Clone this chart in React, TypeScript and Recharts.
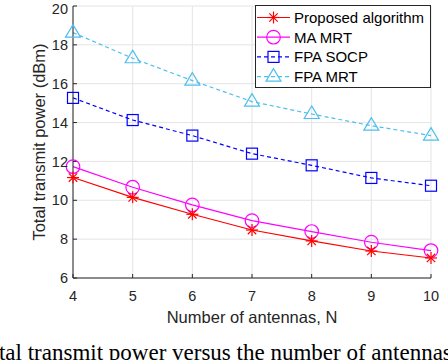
import React from "react";
import {
  LineChart, Line, XAxis, YAxis, CartesianGrid, Label
} from "recharts";

const antennas = [4, 5, 6, 7, 8, 9, 10];
const proposed = [11.17, 10.15, 9.28, 8.47, 7.91, 7.39, 7.03];
const maMrt = [11.73, 10.67, 9.76, 8.95, 8.39, 7.84, 7.41];
const fpaSocp = [15.27, 14.13, 13.33, 12.4, 11.8, 11.15, 10.75];
const fpaMrt = [18.63, 17.31, 16.16, 15.08, 14.44, 13.84, 13.33];
const xTicks = [4, 5, 6, 7, 8, 9, 10];
const yTicks = [6, 8, 10, 12, 14, 16, 18, 20];

const data = antennas.map((n, i) => ({
  n,
  proposed: proposed[i],
  maMrt: maMrt[i],
  fpaSocp: fpaSocp[i],
  fpaMrt: fpaMrt[i],
}));

const RED = "#ff0000";
const MAGENTA = "#ff00ff";
const BLUE = "#0000ff";
const LIGHT = "#4dbeee";
const AX = "#262626";
const FONT = "'Liberation Sans', Arial, sans-serif";

type MarkerKind = "star" | "circle" | "square" | "triangle";

const Marker = ({ kind, cx, cy, color }: { kind: MarkerKind; cx: number; cy: number; color: string }) => {
  if (kind === "star") {
    const r = 6, d = 4.2;
    return (
      <g stroke={color} strokeWidth={1.2}>
        <line x1={cx - r} y1={cy} x2={cx + r} y2={cy} />
        <line x1={cx} y1={cy - r} x2={cx} y2={cy + r} />
        <line x1={cx - d} y1={cy - d} x2={cx + d} y2={cy + d} />
        <line x1={cx - d} y1={cy + d} x2={cx + d} y2={cy - d} />
      </g>
    );
  }
  if (kind === "circle") {
    return <circle cx={cx} cy={cy} r={6.8} fill="none" stroke={color} strokeWidth={1.2} />;
  }
  if (kind === "square") {
    return <rect x={cx - 5.5} y={cy - 5.5} width={11} height={11} fill="none" stroke={color} strokeWidth={1.2} />;
  }
  return (
    <polygon
      points={`${cx},${cy - 8} ${cx - 7.5},${cy + 4.5} ${cx + 7.5},${cy + 4.5}`}
      fill="none" stroke={color} strokeWidth={1.2}
    />
  );
};

const dotFor = (kind: MarkerKind, color: string) => (p: any) => (
  <Marker key={`${kind}-${p.index}`} kind={kind} cx={p.cx} cy={p.cy} color={color} />
);

const legendItems: Array<{ name: string; kind: MarkerKind; color: string; dash?: string }> = [
  { name: "Proposed algorithm", kind: "star", color: RED },
  { name: "MA MRT", kind: "circle", color: MAGENTA },
  { name: "FPA SOCP", kind: "square", color: BLUE, dash: "4 3" },
  { name: "FPA MRT", kind: "triangle", color: LIGHT, dash: "4 3" },
];

const LegendBox = () => (
  <svg width={176} height={83} style={{ display: "block" }}>
    <rect x={0.5} y={0.5} width={175} height={82} fill="#fff" stroke={AX} strokeWidth={1} />
    {legendItems.map((it, i) => {
      const y = 12.5 + i * 19.7;
      return (
        <g key={it.name}>
          <line x1={2} y1={y} x2={35} y2={y} stroke={it.color} strokeWidth={1.2} strokeDasharray={it.dash} />
          <Marker kind={it.kind} cx={18.5} cy={y} color={it.color} />
          <text x={39} y={y} dominantBaseline="central" fontSize={15} fontFamily={FONT} fill="#000">
            {it.name}
          </text>
        </g>
      );
    })}
  </svg>
);

export default function App() {
  return (
    <div style={{ position: "absolute", left: 0, top: 0, width: 448, height: 360, overflow: "hidden", background: "#fff" }}>
      <LineChart
        width={448}
        height={360}
        data={data}
        margin={{ top: 6, right: 17, bottom: 52, left: 13 }}
        style={{ fontFamily: FONT }}
      >
        <CartesianGrid stroke="#e4e4e4" strokeWidth={1} />
        <XAxis
          dataKey="n" type="number" domain={[4, 10]} ticks={xTicks}
          height={30} tickSize={-4} tickMargin={17}
          stroke={AX} tick={{ fill: AX, fontSize: 14.5 }}
        >
          <Label value="Number of antennas, N" position="bottom" offset={3} fill={AX} fontSize={16.5} />
        </XAxis>
        <XAxis
          xAxisId="top" orientation="top" type="number" domain={[4, 10]} ticks={xTicks}
          height={0} tickSize={-4} tick={false} stroke={AX}
        />
        <YAxis
          domain={[6, 20]} ticks={yTicks} width={60} tickSize={-4} tickMargin={9}
          stroke={AX} tick={{ fill: AX, fontSize: 14.5 }}
        >
          <Label
            content={() => (
              <text
                x={39} y={142} transform="rotate(-90 39 142)" textAnchor="middle"
                dominantBaseline="central" fontSize={16.5} fontFamily={FONT} fill={AX}
              >
                Total transmit power (dBm)
              </text>
            )}
          />
        </YAxis>
        <YAxis
          yAxisId="right" orientation="right" domain={[6, 20]} ticks={yTicks}
          width={0} tickSize={-4} tick={false} stroke={AX}
        />
        <Line type="linear" dataKey="fpaMrt" stroke={LIGHT} strokeWidth={1.2} strokeDasharray="4 3"
          dot={dotFor("triangle", LIGHT)} isAnimationActive={false} />
        <Line type="linear" dataKey="fpaSocp" stroke={BLUE} strokeWidth={1.2} strokeDasharray="4 3"
          dot={dotFor("square", BLUE)} isAnimationActive={false} />
        <Line type="linear" dataKey="maMrt" stroke={MAGENTA} strokeWidth={1.2}
          dot={dotFor("circle", MAGENTA)} isAnimationActive={false} />
        <Line type="linear" dataKey="proposed" stroke={RED} strokeWidth={1.2}
          dot={dotFor("star", RED)} isAnimationActive={false} />
      </LineChart>
      <div style={{ position: "absolute", left: 255, top: 5 }}>
        <LegendBox />
      </div>
      <div
        style={{
          position: "absolute", left: -25, top: 340, whiteSpace: "nowrap",
          fontFamily: "'Liberation Serif', 'Times New Roman', serif", fontSize: 23, color: "#000",
        }}
      >
        Total transmit power versus the number of antennas, N.
      </div>
    </div>
  );
}
